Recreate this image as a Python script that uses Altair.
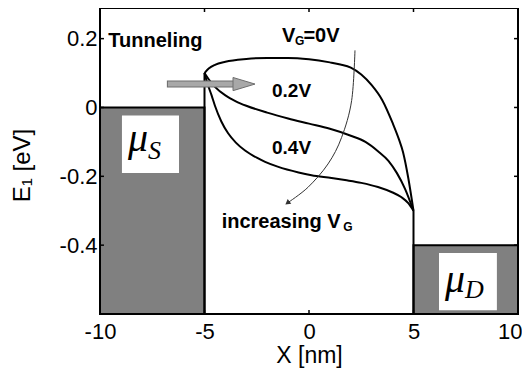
import altair as alt
import pandas as pd

# ---- data ----
x_ticks = [-10, -5, 0, 5, 10]
y_ticks = [-0.4, -0.2, 0, 0.2]
x_domain = [-10, 10]
y_domain = [-0.6, 0.289]

# reservoirs (source / drain)
res_x1 = [-10, 5]
res_x2 = [-5, 10]
res_y1 = [-0.6, -0.6]
res_y2 = [0.0, -0.4]

# white label boxes inside reservoirs
box_x1 = [-8.95, 6.22]
box_x2 = [-6.22, 8.99]
box_y1 = [-0.19, -0.589]
box_y2 = [-0.023, -0.423]

# band edges: vertical walls at the channel ends
wall_x = [-5, 5]
wall_y1 = [-0.6, -0.6]
wall_y2 = [0.1, -0.3]

# subband energy profiles
vg0_x = [-5, -4.8, -4.5, -4.0, -3.0, -2.0, -1.0, 0.0, 1.0, 1.5, 2.0, 2.5, 3.0, 3.5, 4.0, 4.3, 4.5, 4.75, 5.0]
vg0_y = [0.1, 0.113, 0.124, 0.133, 0.141, 0.144, 0.144, 0.140, 0.131, 0.125, 0.116, 0.096, 0.065, 0.022, -0.045, -0.092, -0.130, -0.205, -0.3]

vg2_x = [-5, -4.8, -4.5, -4.0, -3.5, -3.0, -2.0, -1.0, 0.0, 1.0, 2.0, 2.7, 3.3, 3.8, 4.2, 4.6, 5.0]
vg2_y = [0.1, 0.082, 0.060, 0.035, 0.018, 0.005, -0.015, -0.032, -0.047, -0.062, -0.082, -0.100, -0.127, -0.155, -0.190, -0.237, -0.3]

vg4_x = [-5, -4.85, -4.66, -4.5, -4.2, -3.87, -3.5, -3.06, -2.5, -2.1, -1.5, -0.5, 0.12, 1.08, 1.72, 2.5, 3.3, 4.0, 4.43, 4.75, 5.0]
vg4_y = [0.1, 0.068, 0.035, 0.005, -0.040, -0.075, -0.102, -0.125, -0.146, -0.158, -0.172, -0.189, -0.197, -0.205, -0.211, -0.219, -0.231, -0.247, -0.261, -0.278, -0.3]

# "increasing VG" guide arrow
inc_x = [2.2, 2.04, 1.56, 0.91, -0.05, -1.0]
inc_y = [0.166, 0.02, -0.087, -0.164, -0.232, -0.276]

# tunneling arrow
tun_x1, tun_x2, tun_head_x, tun_y = -6.75, -3.6, -3.11, 0.068

xs = alt.Scale(domain=x_domain, nice=False, zero=False)
ys = alt.Scale(domain=y_domain, nice=False, zero=False)

AX_FONT = "Liberation Sans"

x_axis = alt.Axis(values=x_ticks, ticks=False, domain=False, grid=False,
                  labelFont=AX_FONT, labelFontSize=22, labelColor="black",
                  labelPadding=7, labelExpr="toString(datum.value)",
                  labelFlush=False, labelOverlap=False,
                  labelAlign={"condition": {"test": "datum.value == 10", "value": "right"}, "value": "center"},
                  labelOffset={"condition": {"test": "datum.value == 10", "value": 4}, "value": 0},
                  titleFont=AX_FONT, titleFontSize=23,
                  titleFontWeight="normal", titleColor="black",
                  titleY=48, titleBaseline="alphabetic")
y_axis = alt.Axis(values=y_ticks, ticks=False, domain=False, grid=False,
                  labelFont=AX_FONT, labelFontSize=22, labelColor="black",
                  labelPadding=3, labelExpr="toString(datum.value)",
                  labelFlush=False, labelOverlap=False,
                  titleFont=AX_FONT, titleFontSize=24,
                  titleFontWeight="normal", titleColor="black",
                  titleX=-78, titleY=157, titleBaseline="middle")


def X(field="x"):
    return alt.X(f"{field}:Q", scale=xs, axis=x_axis, title="X [nm]")


def Y(field="y"):
    return alt.Y(f"{field}:Q", scale=ys, axis=y_axis, title="E\u2081 [eV]")


res_df = pd.DataFrame({"x": res_x1, "x2": res_x2, "y": res_y1, "y2": res_y2})
reservoirs = alt.Chart(res_df).mark_rect(fill="#808080", stroke="black", strokeWidth=2).encode(
    x=X(), x2="x2:Q", y=Y(), y2="y2:Q",
)

box_df = pd.DataFrame({"x": box_x1, "x2": box_x2, "y": box_y1, "y2": box_y2})
boxes = alt.Chart(box_df).mark_rect(fill="white").encode(
    x=X(), x2="x2:Q", y=Y(), y2="y2:Q",
)

wall_df = pd.DataFrame({"x": wall_x, "y": wall_y1, "y2": wall_y2})
walls = alt.Chart(wall_df).mark_rule(color="black", strokeWidth=2).encode(
    x=X(), y=Y(), y2="y2:Q",
)

# inward ticks on all four sides
tlx = 0.19
tly = 0.0116
tick_rows = []
for t in x_ticks[1:-1]:
    tick_rows.append({"x": t, "x2": t, "y": y_domain[0], "y2": y_domain[0] + tly})
    tick_rows.append({"x": t, "x2": t, "y": y_domain[1], "y2": y_domain[1] - tly})
for t in y_ticks:
    tick_rows.append({"x": x_domain[0], "x2": x_domain[0] + tlx, "y": t, "y2": t})
    tick_rows.append({"x": x_domain[1], "x2": x_domain[1] - tlx, "y": t, "y2": t})
ticks = alt.Chart(pd.DataFrame(tick_rows)).mark_rule(color="black", strokeWidth=1.5).encode(
    x=X(), x2="x2:Q", y=Y(), y2="y2:Q",
)

curve_rows = []
for name, xv, yv in [("0", vg0_x, vg0_y), ("0.2", vg2_x, vg2_y), ("0.4", vg4_x, vg4_y)]:
    for a, b in zip(xv, yv):
        curve_rows.append({"vg": name, "x": a, "y": b})
curves = alt.Chart(pd.DataFrame(curve_rows)).mark_line(
    color="black", strokeWidth=2, interpolate="monotone").encode(
    x=X(), y=Y(), detail="vg:N",
)

inc_df = pd.DataFrame({"x": inc_x, "y": inc_y, "o": list(range(len(inc_x)))})
inc_line = alt.Chart(inc_df).mark_line(color="#333333", strokeWidth=1, interpolate="cardinal").encode(
    x=X(), y=Y(), order="o:Q",
)
inc_head = alt.Chart(inc_df.tail(1)).mark_point(
    shape="triangle", filled=True, color="#333333", size=35, angle=233, opacity=1).encode(
    x=X(), y=Y(),
)

tun_outline = alt.Chart(pd.DataFrame({"x": [tun_x1 - 0.05], "x2": [tun_x2], "y": [tun_y]})).mark_rule(
    color="#6e6e6e", strokeWidth=7).encode(
    x=X(), x2="x2:Q", y=Y(),
)
tun_fill = alt.Chart(pd.DataFrame({"x": [tun_x1], "x2": [tun_x2], "y": [tun_y]})).mark_rule(
    color="#a8a8a8", strokeWidth=5).encode(
    x=X(), x2="x2:Q", y=Y(),
)
tun_head = alt.Chart(pd.DataFrame({"x": [tun_head_x], "y": [tun_y]})).mark_point(
    shape="M-1,-0.6L1,0L-1,0.6Z", size=484, filled=True, fill="#a8a8a8",
    stroke="#6e6e6e", strokeWidth=1, opacity=1).encode(
    x=X(), y=Y(),
)


def label(xv, yv, txt, size, weight="bold", font=AX_FONT, style="normal"):
    return alt.Chart(pd.DataFrame({"x": [xv], "y": [yv], "t": [txt]})).mark_text(
        align="left", baseline="alphabetic", font=font, fontSize=size,
        fontWeight=weight, fontStyle=style, color="black").encode(
        x=X(), y=Y(), text="t:N",
    )


texts = [
    label(-9.6, 0.176, "Tunneling", 20),
    label(-1.29, 0.190, "V", 20),
    label(-0.67, 0.181, "G", 12),
    label(-0.268, 0.190, "=0V", 20),
    label(-1.77, 0.030, "0.2V", 19),
    label(-1.77, -0.134, "0.4V", 19),
    label(-4.18, -0.349, "increasing V", 20),
    label(1.64, -0.359, "G", 12),
    label(-8.66, -0.125, "\u03bc", 40, "normal", "Liberation Serif", "italic"),
    label(-7.70, -0.149, "S", 26, "normal", "Liberation Serif", "italic"),
    label(6.51, -0.536, "\u03bc", 40, "normal", "Liberation Serif", "italic"),
    label(7.46, -0.554, "D", 26, "normal", "Liberation Serif", "italic"),
]

chart = alt.layer(
    reservoirs, boxes, walls, ticks, curves, inc_line, inc_head,
    tun_outline, tun_fill, tun_head, *texts
).properties(
    width=418, height=306,
    autosize=alt.AutoSizeParams(type="none"),
    padding={"left": 92, "top": 0, "right": 4, "bottom": 57},
    background="white",
).configure_view(
    stroke="black", strokeWidth=2
)

chart.save("out.html", embed_options={"renderer": "svg", "actions": False})
